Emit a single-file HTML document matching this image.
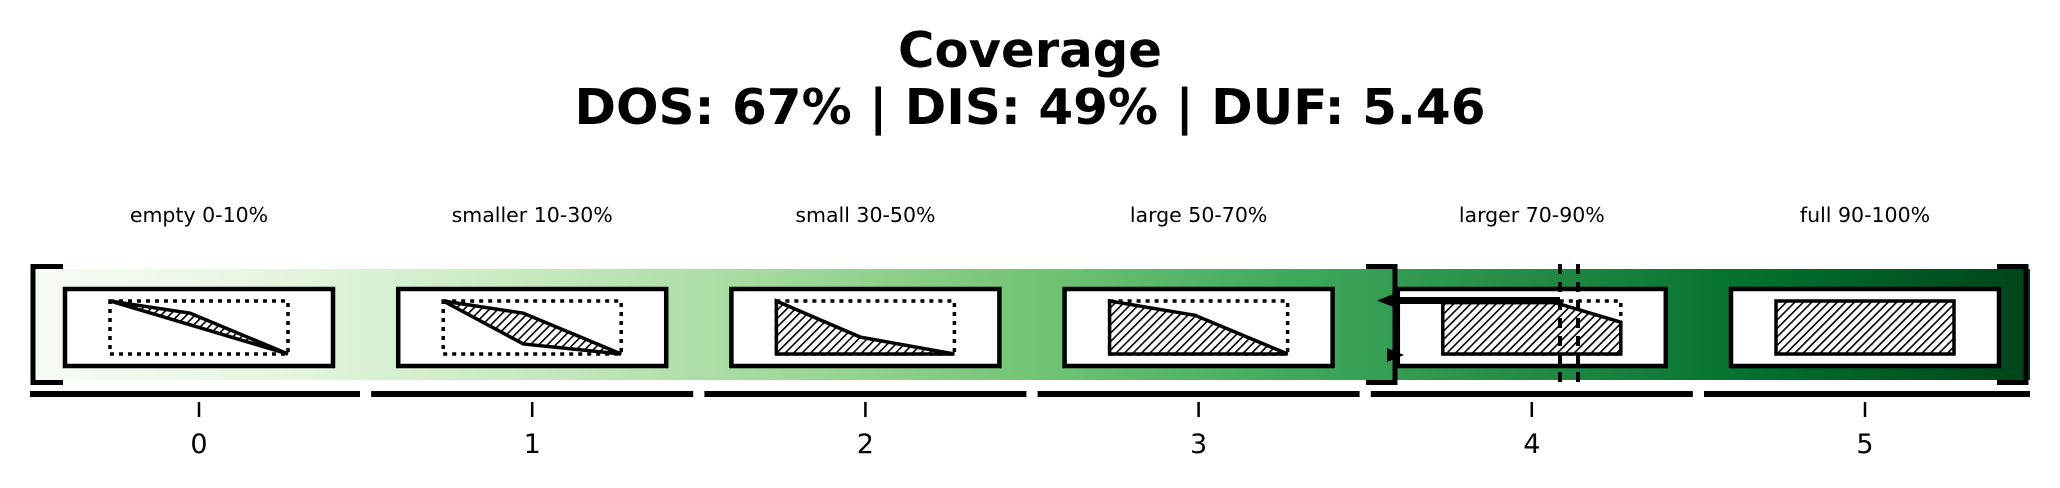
<!DOCTYPE html>
<html><head><meta charset="utf-8"><style>
html,body{margin:0;padding:0;background:#fff;}
svg{display:block;font-family:"DejaVu Sans","Liberation Sans",sans-serif;}
</style></head><body>
<svg id="chart" width="2060" height="488" viewBox="0 0 2060 488" xmlns="http://www.w3.org/2000/svg">
<defs>
<linearGradient id="greens" x1="30" y1="0" x2="2030" y2="0" gradientUnits="userSpaceOnUse">
<stop offset="0" stop-color="#f7fcf5"/><stop offset="0.125" stop-color="#e5f5e0"/>
<stop offset="0.25" stop-color="#c7e9c0"/><stop offset="0.375" stop-color="#a1d99b"/>
<stop offset="0.5" stop-color="#74c476"/><stop offset="0.625" stop-color="#41ab5d"/>
<stop offset="0.75" stop-color="#238b45"/><stop offset="0.875" stop-color="#006d2c"/>
<stop offset="1" stop-color="#00441b"/>
</linearGradient>
<pattern id="hatch" width="6" height="6" patternUnits="userSpaceOnUse" patternTransform="rotate(45)">
<rect width="6" height="6" fill="#fff"/><line x1="0" y1="0" x2="0" y2="6" stroke="#000" stroke-width="3.2"/>
</pattern>
</defs>
<text x="1030" y="67" text-anchor="middle" font-weight="bold" font-size="49" textLength="264" lengthAdjust="spacingAndGlyphs">Coverage</text>
<text x="1030" y="124" text-anchor="middle" font-weight="bold" font-size="49" textLength="911" lengthAdjust="spacingAndGlyphs">DOS: 67% | DIS: 49% | DUF: 5.46</text>
<rect x="30" y="269" width="2000" height="111" fill="url(#greens)"/>
<g id="sections"></g>
<g id="axis"></g>
<g id="overlay">
<path d="M63,266.5 H33 V382.5 H63" fill="none" stroke="#000" stroke-width="5"/>
<path d="M1366,266.5 H1395 V382.5 H1366" fill="none" stroke="#000" stroke-width="5"/>
<path d="M1997,266.5 H2026 V382.5 H1997" fill="none" stroke="#000" stroke-width="5"/>
<line x1="1560" y1="264" x2="1560" y2="386" stroke="#000" stroke-width="4" stroke-dasharray="10,8"/>
<line x1="1578" y1="264" x2="1578" y2="386" stroke="#000" stroke-width="4" stroke-dasharray="10,8"/>
<line x1="1390" y1="300.5" x2="1560" y2="300.5" stroke="#000" stroke-width="7"/>
<polygon points="1377,300.5 1396,293 1396,308" fill="#000"/>
<polygon points="1404,355 1387,348 1387,362" fill="#000"/>
</g>
</svg>
<script>
const categories = ["empty 0-10%","smaller 10-30%","small 30-50%","large 50-70%","larger 70-90%","full 90-100%"];
const tickLabels = ["0","1","2","3","4","5"];
// polyline profiles (fractions of the inner plot box): upper curve & lower curve
const midX = [0.45, 0.45, 0.47, 0.48, 0.63, 0.5];
const upperStart = [0, 0, 0, 0, 0.03, 0];
const upperMid = [0.23, 0.23, 0.68, 0.27, 0.03, 0];
const upperEnd = [1, 1, 1, 1, 0.4, 0];
const lowerMid = [0.45, 0.81, 1, 1, 1, 1];
const lowerEnd = [1, 1, 1, 1, 1, 1];
const showDotted = [true, true, true, true, true, false];

const NS = "http://www.w3.org/2000/svg";
const xScale = i => 199 + 333.2 * i;
const plotTop = 301, plotBot = 354, plotHalf = 89;
const fy = f => plotTop + (plotBot - plotTop) * f;
function mk(tag, attrs, parent){const e=document.createElementNS(NS,tag);for(const k in attrs)e.setAttribute(k,attrs[k]);parent.appendChild(e);return e;}
const sec = document.getElementById("sections");
const ax = document.getElementById("axis");
categories.forEach((c, i) => {
  const cx = xScale(i);
  const g = mk("g", {}, sec);
  
  
  const lbl = mk("text", {x: cx, y: 222, "text-anchor": "middle", "font-size": 20.5}, g);
  lbl.textContent = c;
  
  
  const box = mk("rect", {x: cx - 134, y: 289, width: 268, height: 77, fill: "#fff", stroke: "#000", "stroke-width": 4.5}, g);
  
  
  const x0 = cx - plotHalf, x1 = cx + plotHalf, xm = x0 + (x1 - x0) * midX[i];
  if (showDotted[i]) {
    const d = mk("rect", {x: x0, y: plotTop, width: x1 - x0, height: plotBot - plotTop, fill: "none", stroke: "#000", "stroke-width": 3.5, "stroke-dasharray": "4,5"}, g);
    
    
  }
  const pts = [[x0, fy(upperStart[i])], [xm, fy(upperMid[i])], [x1, fy(upperEnd[i])], [x1, fy(lowerEnd[i])], [xm, fy(lowerMid[i])], [x0, i >= 2 ? plotBot : fy(upperStart[i])]];
  const poly = mk("polygon", {points: pts.map(p => p.join(",")).join(" "), fill: "url(#hatch)", stroke: "#000", "stroke-width": 3.5, "stroke-linejoin": "miter"}, g);
  
  
  const segStart = i === 0 ? 30 : cx - 161, segEnd = i === categories.length - 1 ? 2030 : cx + 161;
  const seg = mk("rect", {x: segStart, y: 391, width: segEnd - segStart, height: 6, fill: "#000"}, ax);
  
  
  const t = mk("line", {x1: cx, y1: 402, x2: cx, y2: 417, stroke: "#000", "stroke-width": 2.5}, ax);
  
  
  const tl = mk("text", {x: cx, y: 453, "text-anchor": "middle", "font-size": 27}, ax);
  tl.textContent = tickLabels[i];
  
  
});
</script>
</body></html>
